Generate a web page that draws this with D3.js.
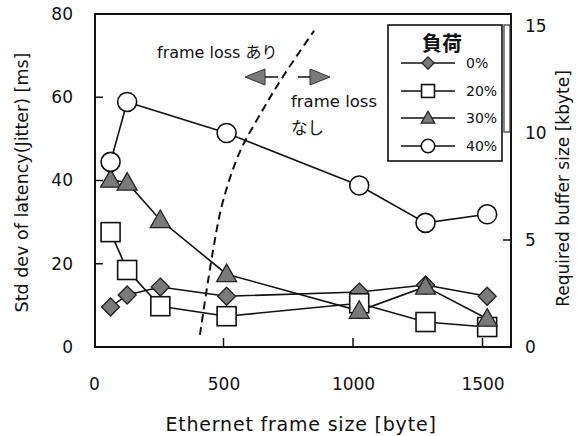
<!DOCTYPE html>
<html>
<head>
<meta charset="utf-8">
<script src="https://cdn.jsdelivr.net/npm/d3@7"></script>
<style>
  body { margin: 0; background: #fff; }
  text { font-family: "DejaVu Sans", "Noto Sans CJK JP", sans-serif; fill: #111; }
</style>
</head>
<body>
<div class="chart"></div>
<script>
// frame sizes [byte]
const frameSizes = [64, 128, 256, 512, 1024, 1280, 1518]

// jitter [ms] (left axis)
const load0 = [9.6, 12.5, 14.4, 12.2, 13.2, 14.9, 12.2]
const load20 = [27.6, 18.5, 9.8, 7.4, 10.5, 6.0, 4.8]
const load30 = [40.2, 39.5, 30.5, 17.5, 8.7, 14.5, 6.8]
// required buffer [kbyte] (right axis)
const load40 = [8.65, 11.45, 10.0, 7.55, 5.8, 6.2]
const load40Sizes = [64, 128, 512, 1024, 1280, 1518]

// frame loss boundary (dashed), in [byte, ms]
const boundaryX = [409, 459, 498, 564, 652, 730, 850]
const boundaryY = [2.9, 23, 35, 47, 57, 65, 76]

const xTicks = [0, 500, 1000, 1500]
const yTicks = [0, 20, 40, 60, 80]
const y2Ticks = [0, 5, 10, 15]
const legendLabels = ["0%", "20%", "30%", "40%"]

const w = 582, h = 436
const pLeft = 95, pRight = 511, pTop = 14, pBottom = 347

const svg = d3.select(".chart").append("svg")
  .attr("width", w).attr("height", h)

const xScale = d3.scaleLinear().domain([0, 1610]).range([94, pRight])
const yScale = d3.scaleLinear().domain([0, 80]).range([pBottom, pTop])
const y2Scale = d3.scaleLinear().domain([0, 15]).range([pBottom, 26])

const gray = "#7a7a7a"
const fmt = d3.format("d")

// frame
svg.append("rect")
  .attr("x", pLeft).attr("y", pTop)
  .attr("width", pRight - pLeft).attr("height", pBottom - pTop)
  .attr("fill", "none").attr("stroke", "#111").attr("stroke-width", 2)

// axes (ticks pointing inward)
const xAxis = d3.axisBottom(xScale).tickValues(xTicks).tickFormat(fmt).tickSize(0).tickPadding(31)
svg.append("g").attr("transform", `translate(0,${pBottom})`).call(xAxis)
  .call(g => g.select(".domain").remove())
  .selectAll("text").style("font-size", "17px")
svg.selectAll(".xtick").data(xTicks.slice(1)).enter().append("line")
  .attr("x1", d => xScale(d)).attr("x2", d => xScale(d))
  .attr("y1", pBottom).attr("y2", pBottom - 9)
  .attr("stroke", "#111").attr("stroke-width", 1.5)

const yAxis = d3.axisLeft(yScale).tickValues(yTicks).tickFormat(fmt).tickSize(0).tickPadding(22)
svg.append("g").attr("transform", `translate(${pLeft},0)`).call(yAxis)
  .call(g => g.select(".domain").remove())
  .selectAll("text").style("font-size", "17px")
svg.selectAll(".ytick").data(yTicks.slice(1, 4)).enter().append("line")
  .attr("x1", pLeft).attr("x2", pLeft + 8)
  .attr("y1", d => yScale(d)).attr("y2", d => yScale(d))
  .attr("stroke", "#111").attr("stroke-width", 1.5)

const y2Axis = d3.axisRight(y2Scale).tickValues(y2Ticks).tickFormat(fmt).tickSize(0).tickPadding(14)
svg.append("g").attr("transform", `translate(${pRight},0)`).call(y2Axis)
  .call(g => g.select(".domain").remove())
  .selectAll("text").style("font-size", "17px")
svg.append("line")
  .attr("x1", pRight).attr("x2", pRight - 8)
  .attr("y1", y2Scale(5)).attr("y2", y2Scale(5))
  .attr("stroke", "#111").attr("stroke-width", 1.5)
svg.append("rect")
  .attr("x", pRight - 7).attr("y", y2Scale(15) - 1)
  .attr("width", 6).attr("height", y2Scale(10) - y2Scale(15))
  .attr("fill", "none").attr("stroke", "#333").attr("stroke-width", 1.2)

// axis titles
svg.append("text")
  .attr("x", (pLeft + pRight) / 2 - 2).attr("y", 431)
  .attr("text-anchor", "middle").style("font-size", "19px").style("letter-spacing", "0.8px")
  .text("Ethernet frame size [byte]")
svg.append("text")
  .attr("transform", `translate(28,${(pTop + pBottom) / 2 + 2}) rotate(-90)`)
  .attr("text-anchor", "middle").style("font-size", "17.5px")
  .text("Std dev of latency(Jitter) [ms]")
svg.append("text")
  .attr("transform", `translate(569,${(pTop + pBottom) / 2 + 8}) rotate(-90)`)
  .attr("text-anchor", "middle").style("font-size", "17px")
  .text("Required buffer size [kbyte]")

// dashed boundary
const bLine = d3.line().curve(d3.curveCatmullRom)
  .x(d => xScale(d[0])).y(d => yScale(d[1]))
svg.append("path")
  .datum(boundaryX.map((x, i) => [x, boundaryY[i]]))
  .attr("d", bLine).attr("fill", "none")
  .attr("stroke", "#111").attr("stroke-width", 2).attr("stroke-dasharray", "8,5")

// series lines
const line = d3.line().x(d => xScale(d[0])).y(d => d[1])
const series = [
  { sizes: frameSizes, vals: load0, y: yScale, shape: "diamond" },
  { sizes: frameSizes, vals: load20, y: yScale, shape: "square" },
  { sizes: frameSizes, vals: load30, y: yScale, shape: "triangle" },
  { sizes: load40Sizes, vals: load40, y: y2Scale, shape: "circle" }
]

function drawMarker(g, shape, x, y, big) {
  const s = big ? 1 : 0.68
  if (shape === "diamond") {
    const r = 9 * s
    g.append("path").attr("d", `M${x},${y - r}L${x + r},${y}L${x},${y + r}L${x - r},${y}Z`)
      .attr("fill", gray).attr("stroke", "#222").attr("stroke-width", 1.3)
  } else if (shape === "square") {
    const r = 9.5 * s
    g.append("rect").attr("x", x - r).attr("y", y - r).attr("width", 2 * r).attr("height", 2 * r)
      .attr("fill", "#fff").attr("stroke", "#111").attr("stroke-width", 1.6)
  } else if (shape === "triangle") {
    const r = 10 * s
    g.append("path").attr("d", `M${x},${y - r}L${x + r},${y + r * 0.75}L${x - r},${y + r * 0.75}Z`)
      .attr("fill", gray).attr("stroke", "#222").attr("stroke-width", 1.3)
  } else {
    g.append("circle").attr("cx", x).attr("cy", y).attr("r", 9.5 * s * (big ? 1 : 1.05))
      .attr("fill", "#fff").attr("stroke", "#111").attr("stroke-width", 1.6)
  }
}

series.forEach(s => {
  const pts = s.sizes.map((x, i) => [x, s.y(s.vals[i])])
  svg.append("path").datum(pts).attr("d", line)
    .attr("fill", "none").attr("stroke", "#111").attr("stroke-width", 1.6)
})
series.forEach(s => {
  const g = svg.append("g")
  s.sizes.forEach((x, i) => drawMarker(g, s.shape, xScale(x), s.y(s.vals[i]), true))
})

// annotations
svg.append("text").attr("x", 157).attr("y", 58).style("font-size", "16px").text("frame loss あり")
svg.append("text").attr("x", 291).attr("y", 107).style("font-size", "16.5px").text("frame loss")
svg.append("text").attr("x", 291).attr("y", 134).style("font-size", "16.5px").text("なし")
svg.append("path").attr("d", "M245,77L265,69L265,85Z").attr("fill", gray).attr("stroke", "#333")
svg.append("line").attr("x1", 265).attr("x2", 278).attr("y1", 77).attr("y2", 77).attr("stroke", "#111").attr("stroke-width", 1.5)
svg.append("path").attr("d", "M330,77L310,69L310,85Z").attr("fill", gray).attr("stroke", "#333")
svg.append("line").attr("x1", 298).attr("x2", 310).attr("y1", 77).attr("y2", 77).attr("stroke", "#111").attr("stroke-width", 1.5)

// legend
const lg = svg.append("g")
lg.append("rect").attr("x", 388).attr("y", 25).attr("width", 114).attr("height", 136)
  .attr("fill", "#fff").attr("stroke", "#111").attr("stroke-width", 1.6)
lg.append("text").attr("x", 442).attr("y", 51).attr("text-anchor", "middle")
  .style("font-size", "20px").style("font-weight", "bold").text("負荷")
const rowY = [63, 91, 118, 146]
series.forEach((s, i) => {
  lg.append("line").attr("x1", 401).attr("x2", 455).attr("y1", rowY[i]).attr("y2", rowY[i])
    .attr("stroke", "#111").attr("stroke-width", 1.5)
  drawMarker(lg, s.shape, 428, rowY[i], false)
  lg.append("text").attr("x", 466).attr("y", rowY[i] + 5).style("font-size", "14px").text(legendLabels[i])
})
</script>
</body>
</html>
